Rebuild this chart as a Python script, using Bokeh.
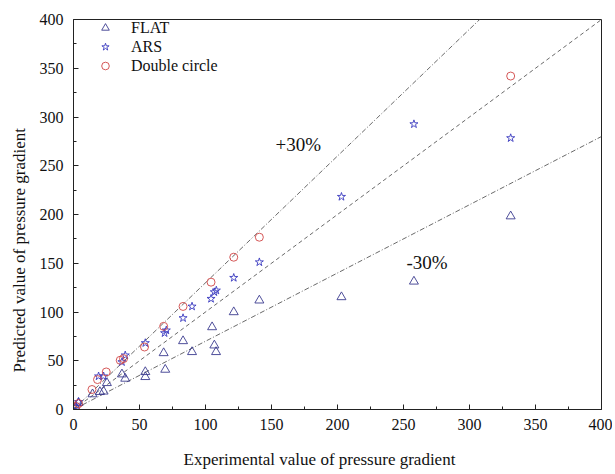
from bokeh.plotting import figure
from bokeh.models import FixedTicker, Legend, LegendItem, Label, Title
from bokeh.embed import file_html
from bokeh.resources import INLINE

# ---- data ----
flat_x = [1.5, 3.8, 14.4, 20.0, 22.8, 25.3, 36.7, 39.2, 54.4, 54.4, 69.5, 68.3, 83.0, 89.8, 105.0, 106.7, 108.0, 121.4, 140.8, 203.0, 257.9, 331.2]
flat_y = [2.5, 6.8, 15.7, 18.0, 18.5, 27.2, 36.1, 31.7, 38.5, 33.4, 40.9, 57.9, 70.2, 59.0, 84.5, 65.8, 59.0, 99.9, 111.9, 115.3, 131.3, 198.2]

ars_x = [2.0, 3.8, 19.0, 22.8, 36.7, 39.2, 54.4, 69.0, 70.3, 83.0, 89.8, 104.2, 106.7, 108.2, 121.4, 140.8, 203.0, 257.9, 331.2]
ars_y = [3.0, 7.8, 34.1, 34.1, 48.7, 55.6, 68.2, 78.4, 81.2, 93.8, 105.7, 113.6, 120.4, 122.1, 135.1, 151.1, 218.2, 292.7, 278.4]

dc_x = [2.0, 3.8, 14.0, 18.2, 24.8, 35.4, 37.9, 53.8, 68.3, 83.0, 104.2, 121.4, 140.8, 331.2]
dc_y = [3.0, 6.1, 20.5, 30.7, 38.5, 50.5, 52.2, 64.1, 85.3, 105.7, 130.6, 156.2, 176.7, 342.0]

line_x = [0, 400]
ratios = [1.3, 1.0, 0.7]
ticks = [0, 50, 100, 150, 200, 250, 300, 350, 400]
minor = [25, 75, 125, 175, 225, 275, 325, 375]

x_title = "Experimental value of pressure gradient"
y_title = "Predicted value of pressure gradient"

FONT = "Liberation Serif"

p = figure(width=612, height=474, x_range=(0, 400), y_range=(0, 400),
           output_backend="svg", toolbar_location=None)
p.min_border_left = 73
p.min_border_right = 11
p.min_border_top = 19
p.min_border_bottom = 65
p.background_fill_color = "white"
p.border_fill_color = "white"
p.outline_line_color = "#222222"
p.outline_line_width = 1
p.xgrid.visible = False
p.ygrid.visible = False

dashes = ["5 2 1 2", "4 3", "5 2 1 2"]
for r, d in zip(ratios, dashes):
    p.line(line_x, [r * v for v in line_x], line_color="#444444", line_width=0.8, line_dash=d)

r1 = p.scatter(flat_x, flat_y, marker="triangle", size=9, fill_color=None,
               line_color="#3b3b8f", line_width=0.9)
r2 = p.scatter(ars_x, ars_y, marker="star", size=8.5, fill_color=None,
               line_color="#3a3ac0", line_width=0.9)
r3 = p.scatter(dc_x, dc_y, marker="circle", size=8, fill_color=None,
               line_color="#d04545", line_width=0.9)

legend = Legend(items=[LegendItem(label="FLAT", renderers=[r1]),
                       LegendItem(label="ARS", renderers=[r2]),
                       LegendItem(label="Double circle", renderers=[r3])],
                location=(22, 334), padding=0, spacing=0, margin=0,
                glyph_width=20, glyph_height=19, label_height=19,
                label_standoff=16, border_line_color=None,
                background_fill_alpha=0,
                label_text_font=FONT, label_text_font_size="16px",
                label_text_color="#111111")
p.add_layout(legend)

for ax in (p.xaxis[0], p.yaxis[0]):
    ax.ticker = FixedTicker(ticks=ticks, minor_ticks=minor)
    ax.major_tick_in = 5
    ax.major_tick_out = 0
    ax.minor_tick_in = 3
    ax.minor_tick_out = 0
    ax.axis_line_color = "#222222"
    ax.major_tick_line_color = "#222222"
    ax.minor_tick_line_color = "#222222"
    ax.major_label_text_font = FONT
    ax.major_label_text_font_size = "16px"
    ax.major_label_text_color = "#111111"

p.xaxis.major_label_standoff = 9
p.yaxis.major_label_standoff = 10

# thin spacer between the x axis and its title
p.add_layout(Title(text="\u00a0", text_font_size="1px", standoff=12), "below")
p.add_layout(Title(text=x_title, align="left", offset=110, standoff=0,
                   text_font=FONT, text_font_size="17px", text_font_style="normal",
                   text_color="#111111"), "below")
p.add_layout(Title(text=y_title, align="left", offset=37, standoff=15,
                   text_font=FONT, text_font_size="17px", text_font_style="normal",
                   text_color="#111111"), "left")

p.add_layout(Label(x=153, y=271.5, text="+30%", text_font=FONT, text_font_size="19px",
                   text_baseline="middle", text_color="#111111"))
p.add_layout(Label(x=252.3, y=151, text="-30%", text_font=FONT, text_font_size="19px",
                   text_baseline="middle", text_color="#111111"))

open("out.html", "w").write(file_html(p, INLINE))
